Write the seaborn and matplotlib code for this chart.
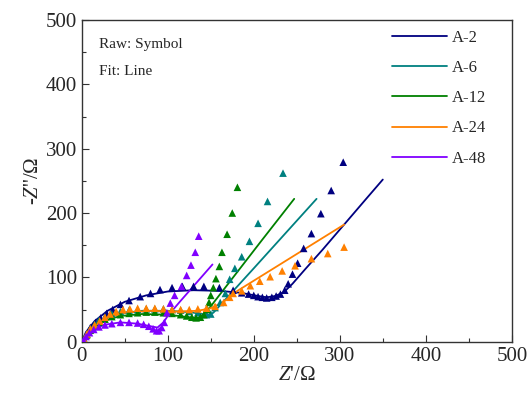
import matplotlib
matplotlib.use("Agg")
import matplotlib.pyplot as plt
import seaborn as sns
import pandas as pd
from matplotlib.ticker import MultipleLocator

# raw data (symbols), Z' and -Z'' in ohm
a2_x = [3, 5, 10, 16, 22, 29, 36, 45, 55, 68, 80, 91, 105, 117, 130, 142, 160, 176, 186, 194,
        200, 205, 210, 215, 221, 226, 231, 236, 240, 245, 251, 258, 267, 278, 290, 304]
a2_y = [2, 10, 22, 30, 37, 44, 50, 58, 64, 70, 75, 81, 84, 86, 86, 86, 84, 80, 76, 74,
        72, 70, 69, 68, 69, 71, 74, 80, 90, 105, 122, 145, 168, 199, 235, 279]

a6_x = [3, 6, 10, 15, 20, 27, 35, 45, 55, 65, 75, 85, 95, 105, 115, 125, 135, 145, 150,
        155, 161, 167, 172, 178, 186, 195, 205, 216, 234]
a6_y = [3, 12, 20, 27, 33, 38, 43, 47, 49, 50, 51, 51, 51, 50, 49, 47, 45, 42, 43,
        53, 61, 75, 97, 114, 132, 156, 184, 218, 262]

a12_x = [3, 6, 10, 15, 20, 27, 35, 45, 55, 65, 75, 85, 95, 105, 115, 122, 128, 133, 138,
         142, 146, 148, 150, 153, 156, 160, 163, 169, 175, 181]
a12_y = [3, 11, 18, 25, 30, 35, 39, 42, 44, 45, 46, 46, 45, 44, 42, 40, 38, 37, 38,
         42, 50, 61, 72, 84, 98, 117, 139, 167, 200, 240]

a24_x = [3, 6, 10, 15, 21, 27, 33, 40, 48, 56, 65, 75, 85, 95, 105, 115, 125, 135, 145,
         155, 165, 172, 176, 186, 196, 207, 219, 233, 248, 267, 286, 305]
a24_y = [3, 12, 20, 26, 32, 38, 43, 47, 50, 51, 52, 52, 52, 51, 50, 50, 50, 51, 52,
         55, 61, 69, 75, 79, 87, 94, 101, 110, 118, 129, 137, 147]

a48_x = [2, 5, 9, 14, 20, 27, 35, 45, 55, 65, 72, 78, 83, 87, 90, 93, 96, 99, 103,
         108, 116, 122, 127, 132, 136]
a48_y = [2, 8, 14, 19, 23, 26, 28, 30, 30, 29, 27, 24, 20, 17, 17, 22, 30, 45, 60,
         72, 86, 103, 119, 139, 164]

# fitted curves (lines)
f2_x = [0, 5, 15, 30, 50, 75, 100, 130, 160, 185, 205, 215, 225, 235, 245, 260, 280, 305, 330, 350]
f2_y = [0, 15, 32, 48, 62, 72, 78, 80, 79, 76, 71, 69, 71, 77, 90, 113, 143, 182, 221, 252]

f6_x = [0, 5, 12, 25, 45, 70, 100, 125, 140, 148, 153, 200, 273]
f6_y = [0, 11, 22, 35, 44, 48, 48, 46, 43, 42, 45, 114, 222]

f12_x = [0, 5, 12, 25, 45, 70, 100, 125, 135, 142, 150, 209, 247]
f12_y = [0, 10, 20, 32, 40, 43, 42, 38, 37, 42, 55, 157, 222]

f24_x = [0, 5, 12, 25, 50, 80, 110, 135, 150, 165, 181, 240, 305]
f24_y = [0, 11, 22, 35, 45, 48, 47, 48, 52, 62, 79, 128, 182]

f48_x = [0, 5, 12, 25, 45, 65, 80, 88, 95, 100, 114, 152]
f48_y = [0, 8, 17, 26, 30, 28, 24, 22, 30, 40, 62, 120]

labels = ["A-2", "A-6", "A-12", "A-24", "A-48"]
colors = ["#000080", "#008080", "#008000", "#ff8000", "#8000ff"]

raw = pd.concat([
    pd.DataFrame({"x": x, "y": y, "sample": lab})
    for x, y, lab in zip([a2_x, a6_x, a12_x, a24_x, a48_x],
                         [a2_y, a6_y, a12_y, a24_y, a48_y], labels)
], ignore_index=True)
fit = pd.concat([
    pd.DataFrame({"x": x, "y": y, "sample": lab})
    for x, y, lab in zip([f2_x, f6_x, f12_x, f24_x, f48_x],
                         [f2_y, f6_y, f12_y, f24_y, f48_y], labels)
], ignore_index=True)

sns.set_style("ticks")
plt.rcParams["font.family"] = ["Liberation Serif", "DejaVu Serif"]
plt.rcParams["mathtext.fontset"] = "custom"
plt.rcParams["mathtext.rm"] = "Liberation Serif"
plt.rcParams["mathtext.it"] = "Liberation Serif:italic"

palette = dict(zip(labels, colors))

fig = plt.figure(figsize=(5.32, 3.98), dpi=100)
ax = fig.add_axes([0.1536, 0.1415, 0.8085, 0.8082])

sns.scatterplot(data=raw, x="x", y="y", hue="sample", palette=palette, marker="^",
                s=30, linewidth=0, legend=False, ax=ax, zorder=3)
sns.lineplot(data=fit, x="x", y="y", hue="sample", palette=palette, sort=False,
             estimator=None, linewidth=1.3, ax=ax, zorder=2)

ax.set_xlim(0, 500)
ax.set_ylim(0, 500)
ax.xaxis.set_major_locator(MultipleLocator(100))
ax.yaxis.set_major_locator(MultipleLocator(100))
ax.xaxis.set_minor_locator(MultipleLocator(50))
ax.yaxis.set_minor_locator(MultipleLocator(50))
ax.tick_params(which="both", direction="in", top=False, right=False,
               labelsize=15, width=0.8, color="#333333")
ax.tick_params(which="major", length=5)
ax.tick_params(which="minor", length=3)
for sp in ax.spines.values():
    sp.set_color("#333333")
    sp.set_linewidth(1.0)

ax.set_xlabel(r"$Z$'/Ω", fontsize=15, labelpad=0)
ax.set_ylabel(r"-$Z$''/Ω", fontsize=15, labelpad=2)

ax.text(0.04, 0.925, "Raw: Symbol", transform=ax.transAxes, fontsize=11, va="center")
ax.text(0.04, 0.84, "Fit: Line", transform=ax.transAxes, fontsize=11, va="center")

ax.legend(title=None, frameon=False, loc="upper left", bbox_to_anchor=(0.706, 0.99),
          fontsize=12, handlelength=3.3, labelspacing=0.85, borderaxespad=0,
          handletextpad=0.3)

fig.savefig("out.png", dpi=100)
